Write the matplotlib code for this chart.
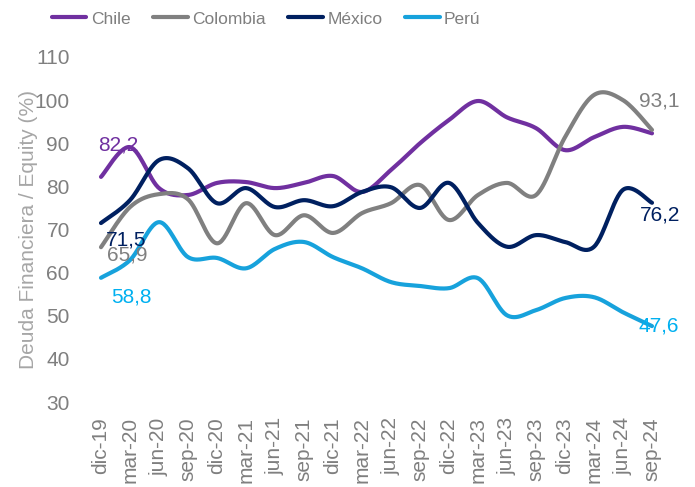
import numpy as np
import matplotlib
matplotlib.use("Agg")
import matplotlib.pyplot as plt
from matplotlib import font_manager

# --- data ---
quarters = ["dic-19", "mar-20", "jun-20", "sep-20", "dic-20", "mar-21", "jun-21",
            "sep-21", "dic-21", "mar-22", "jun-22", "sep-22", "dic-22", "mar-23",
            "jun-23", "sep-23", "dic-23", "mar-24", "jun-24", "sep-24"]
chile = [82.2, 89.1, 79.6, 78.0, 80.8, 81.0, 79.6, 80.8, 82.4, 78.7,
         83.8, 90.0, 95.4, 99.8, 96.0, 93.5, 88.4, 91.4, 93.8, 92.3]
colombia = [65.9, 75.2, 78.2, 77.0, 66.8, 76.1, 68.7, 73.3, 69.2, 73.8,
            76.1, 80.3, 72.2, 78.0, 80.8, 78.0, 91.4, 101.2, 100.0, 93.1]
mexico = [71.5, 76.8, 86.1, 84.2, 76.1, 79.6, 75.2, 76.8, 75.4, 78.7,
          79.8, 75.0, 80.8, 71.5, 66.0, 68.7, 67.1, 66.0, 79.2, 76.2]
peru = [58.8, 62.9, 71.7, 63.6, 63.4, 61.0, 65.5, 67.1, 63.6, 61.0,
        57.8, 56.9, 56.4, 58.7, 50.1, 51.3, 54.1, 54.3, 50.8, 47.6]

series = [
    ("Chile", chile, "#7030A0", "#7030A0"),
    ("Colombia", colombia, "#808080", "#808080"),
    ("México", mexico, "#002060", "#002060"),
    ("Perú", peru, "#17A2DC", "#00B0F0"),
]

# (series index, point index, offset in pixels)
labels = [
    (0, 0, (17, 32)),
    (2, 0, (25, -17)),
    (1, 0, (26, -8)),
    (3, 0, (30, -19)),
    (1, -1, (7, 29)),
    (2, -1, (8, -12)),
    (3, -1, (7, 0)),
]


def smooth(x, y, n=30):
    # bezier smoothing similar to spreadsheet "smoothed line"
    x = np.asarray(x, float)
    y = np.asarray(y, float)
    px = np.concatenate([[x[0]], x, [x[-1]]])
    py = np.concatenate([[y[0]], y, [y[-1]]])
    xs, ys = [], []
    t = np.linspace(0, 1, n)
    for i in range(len(x) - 1):
        p0 = np.array([px[i + 1], py[i + 1]])
        p3 = np.array([px[i + 2], py[i + 2]])
        p1 = p0 + (np.array([px[i + 2], py[i + 2]]) - np.array([px[i], py[i]])) / 6
        p2 = p3 - (np.array([px[i + 3], py[i + 3]]) - np.array([px[i + 1], py[i + 1]])) / 6
        b = (((1 - t) ** 3)[:, None] * p0 + (3 * (1 - t) ** 2 * t)[:, None] * p1
             + (3 * (1 - t) * t ** 2)[:, None] * p2 + (t ** 3)[:, None] * p3)
        xs.extend(b[:, 0])
        ys.extend(b[:, 1])
    return np.array(xs), np.array(ys)


names = {f.name for f in font_manager.fontManager.ttflist}
base_font = "Liberation Sans" if "Liberation Sans" in names else "DejaVu Sans"
legend_font = "Liberation Sans Narrow" if "Liberation Sans Narrow" in names else base_font
plt.rcParams["font.family"] = [base_font, "DejaVu Sans"]

fig = plt.figure(figsize=(6.95, 4.87), dpi=100)
ax = fig.add_axes([86.5 / 695, 85 / 487, 580 / 695, 345 / 487])

x = np.arange(len(quarters))
handles = []
for name, vals, col, lcol in series:
    sx, sy = smooth(x, vals)
    h, = ax.plot(sx, sy, color=col, lw=3, solid_capstyle="round", label=name)
    handles.append(h)

for si, pi, off in labels:
    name, vals, col, lcol = series[si]
    idx = pi if pi >= 0 else len(vals) + pi
    ax.annotate(f"{vals[idx]:.1f}".replace(".", ","), (x[idx], vals[idx]),
                xytext=off, textcoords="offset pixels", ha="center", va="center",
                fontsize=15, color=lcol)

ax.set_xlim(-0.5, len(quarters) - 0.5)
ax.set_ylim(30, 110)
ax.set_yticks(np.arange(30, 111, 10))
ax.set_xticks(x)
ax.set_xticklabels(quarters, rotation=90)
ax.tick_params(axis="both", length=0, labelsize=15, colors="#7F7F7F")
ax.tick_params(axis="x", pad=11)
ax.tick_params(axis="y", pad=12)
for s in ax.spines.values():
    s.set_visible(False)
ax.set_ylabel("Deuda Financiera / Equity (%)", fontsize=15, color="#A6A6A6")
ax.yaxis.set_label_coords((38 - 86.5) / 580, 0.5)

fig.legend(handles=handles, loc="center", bbox_to_anchor=(266 / 695, 1 - 19 / 487),
           ncol=4, frameon=False, handlelength=2.0, handletextpad=0.25,
           columnspacing=1.3, prop={"family": legend_font, "size": 12.5},
           labelcolor="#7F7F7F")

fig.savefig("out.png", dpi=100)
